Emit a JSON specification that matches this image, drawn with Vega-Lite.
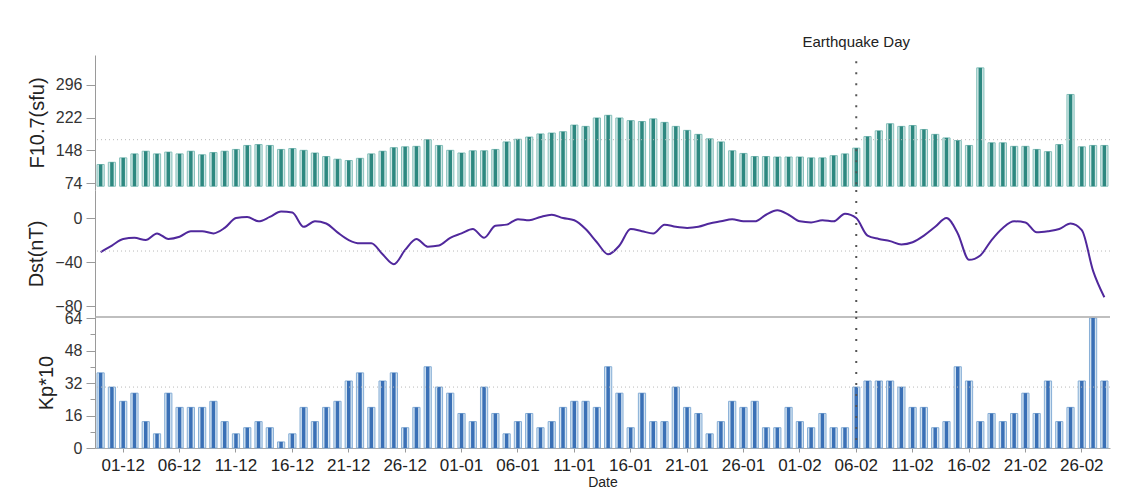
{
  "$schema": "https://vega.github.io/schema/vega-lite/v6.json",
  "background": "white",
  "padding": {"left": 26, "top": 34, "right": 10, "bottom": 5},
  "spacing": 0,
  "bounds": "flush",
  "config": {
    "view": {"stroke": null},
    "font": "Liberation Sans",
    "axis": {
      "domainColor": "#9a9a9a",
      "tickColor": "#9a9a9a",
      "labelColor": "#333333",
      "titleColor": "#222222",
      "labelFont": "Liberation Sans",
      "titleFont": "Liberation Sans",
      "labelFontSize": 16,
      "titleFontSize": 20,
      "titleFontWeight": "normal",
      "labelOverlap": false,
      "grid": false
    }
  },
  "data": {
    "values": [
      {"d": "01-12", "f107": 116, "dst": -31, "kp": 37},
      {"d": "02-12", "f107": 121, "dst": -25, "kp": 30},
      {"d": "03-12", "f107": 131, "dst": -19, "kp": 23},
      {"d": "04-12", "f107": 140, "dst": -18, "kp": 27},
      {"d": "05-12", "f107": 146, "dst": -20, "kp": 13},
      {"d": "06-12", "f107": 140, "dst": -14, "kp": 7},
      {"d": "07-12", "f107": 144, "dst": -19, "kp": 27},
      {"d": "08-12", "f107": 140, "dst": -17, "kp": 20},
      {"d": "09-12", "f107": 146, "dst": -12, "kp": 20},
      {"d": "10-12", "f107": 138, "dst": -12, "kp": 20},
      {"d": "11-12", "f107": 143, "dst": -14, "kp": 23},
      {"d": "12-12", "f107": 146, "dst": -9, "kp": 13},
      {"d": "13-12", "f107": 150, "dst": 0, "kp": 7},
      {"d": "14-12", "f107": 159, "dst": 1, "kp": 10},
      {"d": "15-12", "f107": 161, "dst": -3, "kp": 13},
      {"d": "16-12", "f107": 159, "dst": 1, "kp": 10},
      {"d": "17-12", "f107": 150, "dst": 6, "kp": 3},
      {"d": "18-12", "f107": 152, "dst": 5, "kp": 7},
      {"d": "19-12", "f107": 148, "dst": -8, "kp": 20},
      {"d": "20-12", "f107": 142, "dst": -3, "kp": 13},
      {"d": "21-12", "f107": 134, "dst": -5, "kp": 20},
      {"d": "22-12", "f107": 128, "dst": -13, "kp": 23},
      {"d": "23-12", "f107": 125, "dst": -20, "kp": 33},
      {"d": "24-12", "f107": 130, "dst": -23, "kp": 37},
      {"d": "25-12", "f107": 140, "dst": -23, "kp": 20},
      {"d": "26-12", "f107": 146, "dst": -33, "kp": 33},
      {"d": "27-12", "f107": 154, "dst": -42, "kp": 37},
      {"d": "28-12", "f107": 156, "dst": -29, "kp": 10},
      {"d": "29-12", "f107": 157, "dst": -19, "kp": 20},
      {"d": "30-12", "f107": 172, "dst": -26, "kp": 40},
      {"d": "31-12", "f107": 159, "dst": -25, "kp": 30},
      {"d": "01-01", "f107": 148, "dst": -18, "kp": 27},
      {"d": "02-01", "f107": 142, "dst": -14, "kp": 17},
      {"d": "03-01", "f107": 147, "dst": -10, "kp": 13},
      {"d": "04-01", "f107": 147, "dst": -18, "kp": 30},
      {"d": "05-01", "f107": 150, "dst": -7, "kp": 17},
      {"d": "06-01", "f107": 167, "dst": -6, "kp": 7},
      {"d": "07-01", "f107": 173, "dst": -1, "kp": 13},
      {"d": "08-01", "f107": 178, "dst": -2, "kp": 17},
      {"d": "09-01", "f107": 185, "dst": 1, "kp": 10},
      {"d": "10-01", "f107": 187, "dst": 3, "kp": 13},
      {"d": "11-01", "f107": 190, "dst": 0, "kp": 20},
      {"d": "12-01", "f107": 205, "dst": -2, "kp": 23},
      {"d": "13-01", "f107": 202, "dst": -10, "kp": 23},
      {"d": "14-01", "f107": 221, "dst": -22, "kp": 20},
      {"d": "15-01", "f107": 227, "dst": -33, "kp": 40},
      {"d": "16-01", "f107": 221, "dst": -25, "kp": 27},
      {"d": "17-01", "f107": 215, "dst": -10, "kp": 10},
      {"d": "18-01", "f107": 213, "dst": -12, "kp": 27},
      {"d": "19-01", "f107": 219, "dst": -14, "kp": 13},
      {"d": "20-01", "f107": 211, "dst": -6, "kp": 13},
      {"d": "21-01", "f107": 202, "dst": -8, "kp": 30},
      {"d": "22-01", "f107": 193, "dst": -9, "kp": 20},
      {"d": "23-01", "f107": 184, "dst": -8, "kp": 17},
      {"d": "24-01", "f107": 174, "dst": -5, "kp": 7},
      {"d": "25-01", "f107": 167, "dst": -3, "kp": 13},
      {"d": "26-01", "f107": 147, "dst": -1, "kp": 23},
      {"d": "27-01", "f107": 141, "dst": -3, "kp": 20},
      {"d": "28-01", "f107": 134, "dst": -3, "kp": 23},
      {"d": "29-01", "f107": 134, "dst": 3, "kp": 10},
      {"d": "30-01", "f107": 133, "dst": 7, "kp": 10},
      {"d": "31-01", "f107": 133, "dst": 3, "kp": 20},
      {"d": "01-02", "f107": 133, "dst": -3, "kp": 13},
      {"d": "02-02", "f107": 131, "dst": -4, "kp": 10},
      {"d": "03-02", "f107": 131, "dst": -2, "kp": 17},
      {"d": "04-02", "f107": 136, "dst": -3, "kp": 10},
      {"d": "05-02", "f107": 140, "dst": 4, "kp": 10},
      {"d": "06-02", "f107": 153, "dst": 0, "kp": 30},
      {"d": "07-02", "f107": 179, "dst": -16, "kp": 33},
      {"d": "08-02", "f107": 192, "dst": -19, "kp": 33},
      {"d": "09-02", "f107": 208, "dst": -21, "kp": 33},
      {"d": "10-02", "f107": 202, "dst": -24, "kp": 30},
      {"d": "11-02", "f107": 204, "dst": -22, "kp": 20},
      {"d": "12-02", "f107": 195, "dst": -16, "kp": 20},
      {"d": "13-02", "f107": 184, "dst": -8, "kp": 10},
      {"d": "14-02", "f107": 176, "dst": 0, "kp": 13},
      {"d": "15-02", "f107": 170, "dst": -14, "kp": 40},
      {"d": "16-02", "f107": 159, "dst": -38, "kp": 33},
      {"d": "17-02", "f107": 334, "dst": -34, "kp": 13},
      {"d": "18-02", "f107": 165, "dst": -20, "kp": 17},
      {"d": "19-02", "f107": 165, "dst": -9, "kp": 13},
      {"d": "20-02", "f107": 157, "dst": -3, "kp": 17},
      {"d": "21-02", "f107": 157, "dst": -4, "kp": 27},
      {"d": "22-02", "f107": 150, "dst": -13, "kp": 17},
      {"d": "23-02", "f107": 145, "dst": -12, "kp": 33},
      {"d": "24-02", "f107": 161, "dst": -10, "kp": 13},
      {"d": "25-02", "f107": 274, "dst": -5, "kp": 20},
      {"d": "26-02", "f107": 156, "dst": -11, "kp": 33},
      {"d": "27-02", "f107": 159, "dst": -48, "kp": 64},
      {"d": "28-02", "f107": 159, "dst": -72, "kp": 33}
    ]
  },
  "vconcat": [
    {
      "width": 1015,
      "height": 135,
      "encoding": {
        "x": {"field": "d", "type": "ordinal", "sort": null, "axis": null,
              "scale": {"paddingInner": 0, "paddingOuter": 0}}
      },
      "layer": [
        {
          "mark": {"type": "bar", "width": {"band": 0.64}, "fill": "#d3e9e7", "stroke": "#86c0bb", "strokeWidth": 1},
          "encoding": {
            "y": {"field": "f107", "type": "quantitative",
                  "scale": {"domain": [58.5, 363], "nice": false, "zero": false},
                  "axis": {"title": "F10.7(sfu)", "values": [74, 111, 148, 185, 222, 259, 296, 333],
                           "labelOverlap": false,
                           "labelExpr": "indexof([74,148,222,296], datum.value) >= 0 ? datum.label : ''",
                           "tickSize": {"condition": {"test": "indexof([74,148,222,296], datum.value) >= 0", "value": 9}, "value": 5},
                           "labelPadding": 4, "titlePadding": 8, "domain": true}},
            "y2": {"datum": 67}
          }
        },
        {
          "mark": {"type": "bar", "width": 3.5, "fill": "#2d8880"},
          "encoding": {
            "y": {"field": "f107", "type": "quantitative"},
            "y2": {"datum": 67}
          }
        },
        {
          "data": {"values": [{}]},
          "mark": {"type": "rule", "strokeDash": [1, 3], "color": "#b8b8b8", "strokeWidth": 1},
          "encoding": {"x": null, "y": {"datum": 172, "type": "quantitative"}}
        },
        {
          "data": {"values": [{}]},
          "mark": {"type": "rule", "strokeDash": [2, 9], "color": "#555555", "strokeWidth": 2},
          "encoding": {"x": {"datum": "06-02"}, "y": {"datum": 349}, "y2": {"datum": 58.5}}
        },
        {
          "data": {"values": [{}]},
          "mark": {"type": "text", "fontSize": 15, "color": "#222222", "font": "Liberation Sans"},
          "encoding": {"x": {"datum": "06-02"}, "y": {"datum": 393}, "text": {"value": "Earthquake Day"}}
        }
      ]
    },
    {
      "width": 1015,
      "height": 127,
      "encoding": {
        "x": {"field": "d", "type": "ordinal", "sort": null, "axis": null,
              "scale": {"paddingInner": 0, "paddingOuter": 0}}
      },
      "layer": [
        {
          "mark": {"type": "line", "interpolate": "monotone", "color": "#50289c", "strokeWidth": 2},
          "encoding": {
            "y": {"field": "dst", "type": "quantitative",
                  "scale": {"domain": [-90, 25.5], "nice": false, "zero": false},
                  "axis": {"title": "Dst(nT)", "values": [20, 0, -20, -40, -60, -80],
                           "labelOverlap": false,
                           "labelExpr": "indexof([0,-40,-80], datum.value) >= 0 ? datum.label : ''",
                           "tickSize": {"condition": {"test": "indexof([0,-40,-80], datum.value) >= 0", "value": 9}, "value": 5},
                           "labelPadding": 4, "titlePadding": 8}}
          }
        },
        {
          "data": {"values": [{}]},
          "mark": {"type": "rule", "strokeDash": [1, 3], "color": "#b8b8b8", "strokeWidth": 1},
          "encoding": {"x": null, "y": {"datum": -30, "type": "quantitative"}}
        },
        {
          "data": {"values": [{}]},
          "mark": {"type": "rule", "strokeDash": [2, 9], "color": "#555555", "strokeWidth": 2},
          "encoding": {"x": {"datum": "06-02"}}
        }
      ]
    },
    {
      "width": 1015,
      "height": 131,
      "resolve": {"axis": {"y": "independent"}},
      "encoding": {
        "x": {"field": "d", "type": "ordinal", "sort": null,
              "scale": {"paddingInner": 0, "paddingOuter": 0},
              "axis": {"title": "Date", "titleFontSize": 14, "titlePadding": 2, "labelFontSize": 17, "labelColor": "#222222",
                       "labelAngle": 0, "tickSize": 4, "labelPadding": 5, "domainColor": "#aaaaaa", "labelOverlap": false,
                       "values": ["03-12","08-12","13-12","18-12","23-12","28-12","02-01","07-01","12-01","17-01","22-01","27-01","01-02","06-02","11-02","16-02","21-02","26-02"],
                       "labelExpr": "['01-12','06-12','11-12','16-12','21-12','26-12','01-01','06-01','11-01','16-01','21-01','26-01','01-02','06-02','11-02','16-02','21-02','26-02'][indexof(['03-12','08-12','13-12','18-12','23-12','28-12','02-01','07-01','12-01','17-01','22-01','27-01','01-02','06-02','11-02','16-02','21-02','26-02'], datum.value)]"}}
      },
      "layer": [
        {
          "mark": {"type": "bar", "width": {"band": 0.64}, "fill": "#d3e3f1", "stroke": "#86aed6", "strokeWidth": 1},
          "encoding": {
            "y": {"field": "kp", "type": "quantitative",
                  "scale": {"domain": [0, 64.5], "nice": false, "zero": false},
                  "axis": {"title": "Kp*10", "orient": "left", "values": [0, 8, 16, 24, 32, 40, 48, 56, 64],
                           "labelOverlap": false,
                           "labelExpr": "indexof([0,16,32,48,64], datum.value) >= 0 ? datum.label : ''",
                           "tickSize": {"condition": {"test": "indexof([0,16,32,48,64], datum.value) >= 0", "value": 9}, "value": 5},
                           "labelPadding": 4, "titlePadding": 8}},
            "y2": {"datum": 0}
          }
        },
        {
          "mark": {"type": "bar", "width": 3.5, "fill": "#3a70b6"},
          "encoding": {"y": {"field": "kp", "type": "quantitative", "axis": null}, "y2": {"datum": 0}}
        },
        {
          "data": {"values": [{}]},
          "mark": {"type": "rule", "strokeDash": [1, 3], "color": "#b8b8b8", "strokeWidth": 1},
          "encoding": {"x": null, "y": {"datum": 30, "type": "quantitative", "axis": null}}
        },
        {
          "data": {"values": [{}]},
          "mark": {"type": "rule", "color": "#aaaaaa", "strokeWidth": 1.5},
          "encoding": {"x": null, "y": {"datum": 64.5, "type": "quantitative", "axis": null}}
        },
        {
          "data": {"values": [{}]},
          "mark": {"type": "rule", "strokeDash": [2, 9], "color": "#555555", "strokeWidth": 2},
          "encoding": {"x": {"datum": "06-02"}}
        }
      ]
    }
  ]
}
